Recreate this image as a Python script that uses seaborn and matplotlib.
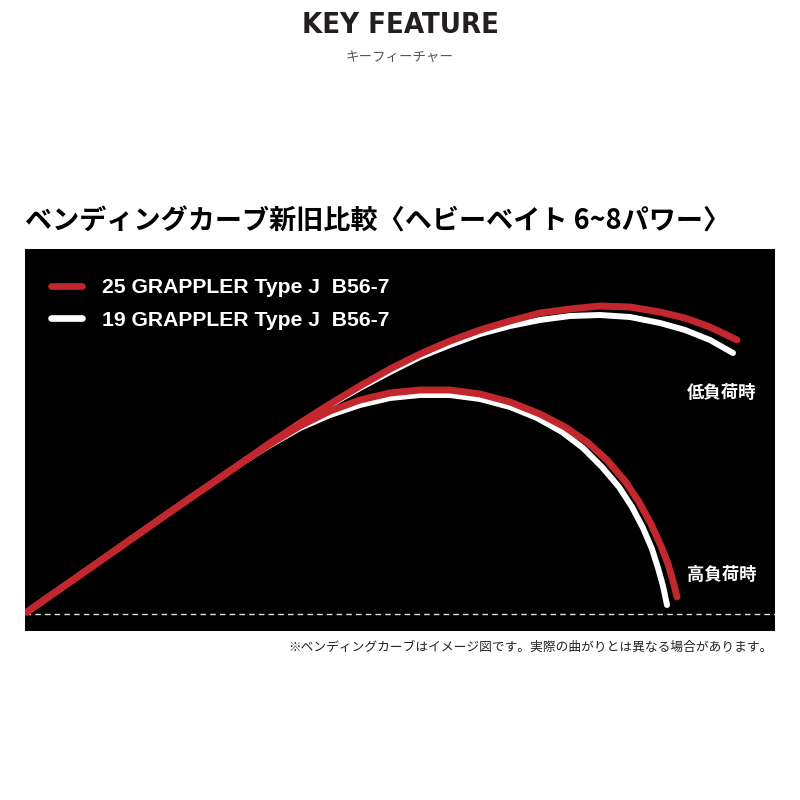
import matplotlib
matplotlib.use("Agg")
import matplotlib.pyplot as plt
import seaborn as sns
from matplotlib.lines import Line2D

sns.set_theme(style="white")
plt.rcParams['font.family'] = ['Liberation Sans', 'Noto Sans CJK JP', 'DejaVu Sans']

# ---- data (bend position x, deflection y, arbitrary units) ----
series_names = ["25 GRAPPLER Type J  B56-7", "19 GRAPPLER Type J  B56-7"]
series_colors = ["#c1272d", "#ffffff"]

red_low_x = [2, 75, 145, 215, 245, 275, 305, 335, 365, 395, 425, 455, 485, 515, 545, 575, 605, 635, 660, 685, 712]
red_low_y = [2, 53, 102, 150, 171, 191, 210, 228, 245, 260, 273, 284, 293, 301, 305, 308, 307, 302, 296, 287, 274]

white_low_x = [2, 75, 145, 215, 245, 275, 305, 335, 365, 395, 425, 455, 485, 515, 545, 575, 605, 635, 660, 685, 708]
white_low_y = [2, 53, 102, 150, 171, 190, 209, 226, 242, 257, 269, 280, 288, 294, 298, 299, 297, 291, 284, 274, 261]

red_high_x = [2, 75, 145, 215, 245, 275, 305, 335, 365, 395, 425, 455, 485, 515, 540, 562, 582, 600, 614, 626, 636, 643, 648, 652]
red_high_y = [2, 53, 102, 150, 170, 188, 203, 214, 221, 224, 224, 220, 212, 200, 187, 172, 154, 133, 112, 90, 68, 50, 33, 17]

white_high_x = [2, 75, 145, 215, 245, 275, 305, 335, 365, 395, 425, 455, 485, 512, 537, 558, 577, 594, 607, 618, 627, 633, 638, 642]
white_high_y = [2, 53, 102, 150, 169, 186, 199, 209, 216, 219, 219, 215, 207, 196, 182, 166, 147, 127, 107, 86, 65, 46, 28, 9]

label_low = "低負荷時"
label_high = "高負荷時"
title = "ベンディングカーブ新旧比較〈ヘビーベイト 6~8パワー〉"
header = "KEY FEATURE"
header_sub = "キーフィーチャー"
footnote = "※ベンディングカーブはイメージ図です。実際の曲がりとは異なる場合があります。"

# ---- figure ----
fig = plt.figure(figsize=(8, 8), dpi=100)
fig.patch.set_facecolor("white")
ax = fig.add_axes([25 / 800, 1 - 631 / 800, 750 / 800, 382 / 800])
ax.set_facecolor("black")
ax.set_xlim(0, 750)
ax.set_ylim(-17, 365)
ax.set_xticks([])
ax.set_yticks([])
for s in ax.spines.values():
    s.set_visible(False)

# baseline
ax.axhline(0, color="#dddddd", lw=1.0, ls=(0, (4, 3)), zorder=1)

lw_red, lw_white = 5.0, 4.3
kw = dict(estimator=None, sort=False, solid_capstyle="round", solid_joinstyle="round", ax=ax)
sns.lineplot(x=white_low_x, y=white_low_y, color=series_colors[1], linewidth=lw_white, zorder=2, **kw)
sns.lineplot(x=white_high_x, y=white_high_y, color=series_colors[1], linewidth=lw_white, zorder=2, **kw)
sns.lineplot(x=red_low_x, y=red_low_y, color=series_colors[0], linewidth=lw_red, zorder=3, **kw)
sns.lineplot(x=red_high_x, y=red_high_y, color=series_colors[0], linewidth=lw_red, zorder=3, **kw)

# legend
handles = [Line2D([], [], color=c, lw=4.8, solid_capstyle="round") for c in series_colors]
leg = ax.legend(handles, series_names, loc="upper left",
                bbox_to_anchor=(26 / 750, 1 - 29 / 382), frameon=False,
                prop=dict(family=['Liberation Sans'], weight="bold", size=15.2),
                handlelength=1.47, handletextpad=0.95, labelspacing=0.64, borderpad=0,
                borderaxespad=0)
for t in leg.get_texts():
    t.set_color("white")

ax.text(697, 221, label_low, color="white", fontsize=12.5, fontweight="bold",
        family=['Noto Sans CJK JP'], ha="center", va="center")
ax.text(697, 39, label_high, color="white", fontsize=12.5, fontweight="bold",
        family=['Noto Sans CJK JP'], ha="center", va="center")

# texts
fig.text(0.5, 1 - 25 / 800, header, ha="center", va="center", fontsize=21,
         fontweight="bold", fontstretch="condensed", color="#231f20",
         family=['DejaVu Sans'])
fig.text(0.5, 1 - 57 / 800, header_sub, ha="center", va="center", fontsize=9.7,
         color="#555555", family=['Noto Sans CJK JP'])
fig.text(25 / 800, 1 - 222 / 800, title, ha="left", va="center", fontsize=19.5,
         fontweight="bold", color="black", family=['Noto Sans CJK JP', 'DejaVu Sans'])
fig.text(773 / 800, 1 - 647 / 800, footnote, ha="right", va="center", fontsize=9.15,
         color="#222222", family=['Noto Sans CJK JP'])

fig.savefig("out.png", dpi=100, facecolor="white")
